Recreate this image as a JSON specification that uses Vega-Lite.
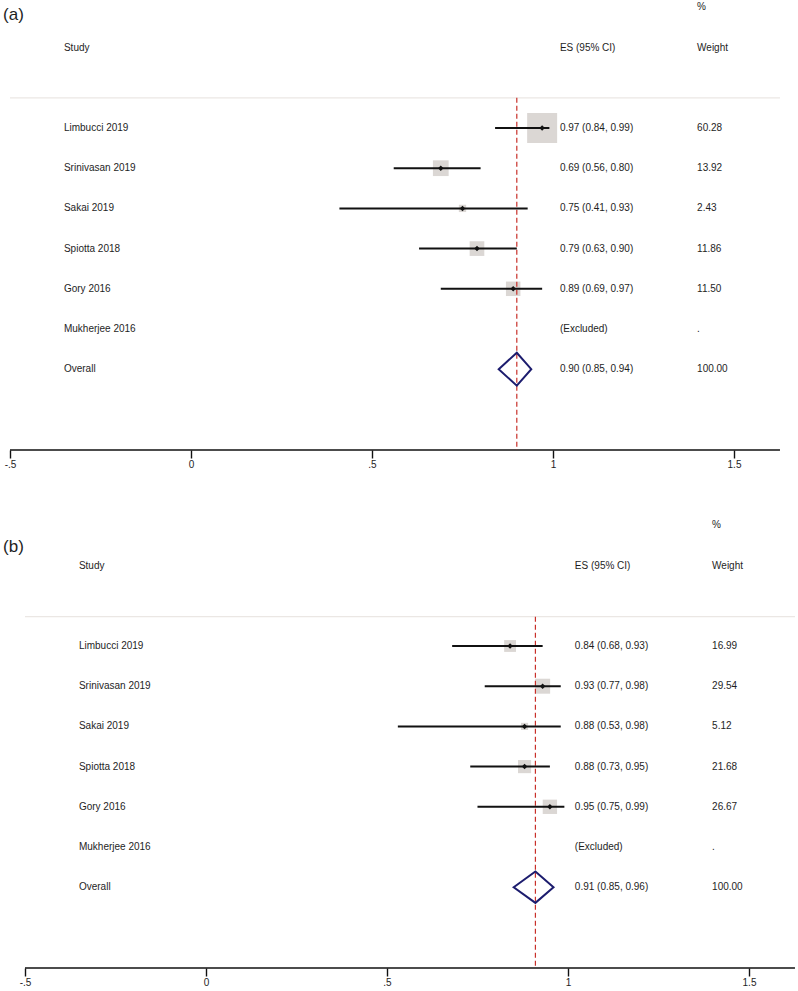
{
  "$schema": "https://vega.github.io/schema/vega-lite/v6.json",
  "background": "white",
  "padding": {"left": 3, "top": 0, "right": 0, "bottom": 0},
  "autosize": {"type": "pad"},
  "bounds": "flush",
  "spacing": 68,
  "config": {
    "view": {"stroke": null},
    "text": {"font": "Liberation Sans", "fontSize": 10, "color": "#1e1e1e", "align": "left", "baseline": "middle"}
  },
  "resolve": {"scale": {"x": "independent", "y": "independent", "size": "independent"}},
  "datasets": {
    "a": [
      {"row": -2, "kind": "header", "study": "", "esci": "", "wlabel": "%"},
      {"row": -1, "kind": "header", "study": "Study", "esci": "ES (95% CI)", "wlabel": "Weight"},
      {"row": 1, "kind": "study", "study": "Limbucci 2019", "es": 0.97, "lo": 0.84, "hi": 0.99, "weight": 60.28, "esci": "0.97 (0.84, 0.99)", "wlabel": "60.28"},
      {"row": 2, "kind": "study", "study": "Srinivasan 2019", "es": 0.69, "lo": 0.56, "hi": 0.80, "weight": 13.92, "esci": "0.69 (0.56, 0.80)", "wlabel": "13.92"},
      {"row": 3, "kind": "study", "study": "Sakai 2019", "es": 0.75, "lo": 0.41, "hi": 0.93, "weight": 2.43, "esci": "0.75 (0.41, 0.93)", "wlabel": "2.43"},
      {"row": 4, "kind": "study", "study": "Spiotta 2018", "es": 0.79, "lo": 0.63, "hi": 0.90, "weight": 11.86, "esci": "0.79 (0.63, 0.90)", "wlabel": "11.86"},
      {"row": 5, "kind": "study", "study": "Gory 2016", "es": 0.89, "lo": 0.69, "hi": 0.97, "weight": 11.50, "esci": "0.89 (0.69, 0.97)", "wlabel": "11.50"},
      {"row": 6, "kind": "excluded", "study": "Mukherjee 2016", "esci": "(Excluded)", "wlabel": "."},
      {"row": 7, "kind": "overall", "study": "Overall", "es": 0.90, "lo": 0.85, "hi": 0.94, "weight": 100, "esci": "0.90 (0.85, 0.94)", "wlabel": "100.00"}
    ],
    "b": [
      {"row": -2, "kind": "header", "study": "", "esci": "", "wlabel": "%"},
      {"row": -1, "kind": "header", "study": "Study", "esci": "ES (95% CI)", "wlabel": "Weight"},
      {"row": 1, "kind": "study", "study": "Limbucci 2019", "es": 0.84, "lo": 0.68, "hi": 0.93, "weight": 16.99, "esci": "0.84 (0.68, 0.93)", "wlabel": "16.99"},
      {"row": 2, "kind": "study", "study": "Srinivasan 2019", "es": 0.93, "lo": 0.77, "hi": 0.98, "weight": 29.54, "esci": "0.93 (0.77, 0.98)", "wlabel": "29.54"},
      {"row": 3, "kind": "study", "study": "Sakai 2019", "es": 0.88, "lo": 0.53, "hi": 0.98, "weight": 5.12, "esci": "0.88 (0.53, 0.98)", "wlabel": "5.12"},
      {"row": 4, "kind": "study", "study": "Spiotta 2018", "es": 0.88, "lo": 0.73, "hi": 0.95, "weight": 21.68, "esci": "0.88 (0.73, 0.95)", "wlabel": "21.68"},
      {"row": 5, "kind": "study", "study": "Gory 2016", "es": 0.95, "lo": 0.75, "hi": 0.99, "weight": 26.67, "esci": "0.95 (0.75, 0.99)", "wlabel": "26.67"},
      {"row": 6, "kind": "excluded", "study": "Mukherjee 2016", "esci": "(Excluded)", "wlabel": "."},
      {"row": 7, "kind": "overall", "study": "Overall", "es": 0.91, "lo": 0.85, "hi": 0.96, "weight": 100, "esci": "0.91 (0.85, 0.96)", "wlabel": "100.00"}
    ]
  },
  "vconcat": [
    {
      "width": 785,
      "height": 450,
      "data": {"name": "a"},
      "layer": [
        {
          "data": {"values": [{"line": "axis"}]},
          "mark": {"type": "rule", "color": "#111111", "strokeWidth": 1.6},
          "encoding": {
            "x": {"datum": -0.5, "type": "quantitative", "scale": {"domain": [-0.5, 1.6685], "nice": false, "zero": false},
              "axis": {"values": [-0.5, 0, 0.5, 1, 1.5], "labelExpr": "datum.value == -0.5 ? '-.5' : datum.value == 0.5 ? '.5' : datum.value == 1.5 ? '1.5' : datum.value == 1 ? '1' : '0'", "domain": false, "grid": false, "ticks": true, "tickSize": 8, "tickWidth": 1.4, "tickColor": "#111111", "labelFont": "Liberation Sans", "labelFontSize": 10, "labelColor": "#1e1e1e", "labelPadding": 1, "labelFlush": false, "title": null}},
            "x2": {"datum": 1.627},
            "y": {"datum": 9.01, "type": "quantitative", "scale": {"domain": [-2.184, 9.01], "reverse": true, "nice": false, "zero": false}, "axis": null}
          }
        },
        {
          "data": {"values": [{"line": "separator"}]},
          "mark": {"type": "rule", "color": "#ebe7e4", "strokeWidth": 1.2},
          "encoding": {
            "x": {"datum": -0.5, "type": "quantitative"},
            "x2": {"datum": 1.627},
            "y": {"datum": 0.25, "type": "quantitative", "axis": null}
          }
        },
        {
          "transform": [{"filter": "datum.kind == 'study'"}],
          "mark": {"type": "point", "shape": "square", "filled": true, "color": "#dbd7d4", "opacity": 1},
          "encoding": {
            "x": {"field": "es", "type": "quantitative", "title": null},
            "y": {"field": "row", "type": "quantitative", "axis": null},
            "size": {"field": "weight", "type": "quantitative", "scale": {"type": "pow", "exponent": 0.88, "domain": [0, 100], "range": [0, 1405]}, "legend": null}
          }
        },
        {
          "transform": [{"filter": "datum.kind == 'overall'"}],
          "mark": {"type": "rule", "color": "#c8302a", "strokeWidth": 1.2, "strokeDash": [5, 3]},
          "encoding": {
            "x": {"field": "es", "type": "quantitative", "title": null},
            "y": {"datum": 0.25, "type": "quantitative", "axis": null},
            "y2": {"datum": 9.01}
          }
        },
        {
          "transform": [{"filter": "datum.kind == 'study'"}],
          "mark": {"type": "rule", "color": "#111111", "strokeWidth": 2},
          "encoding": {
            "x": {"field": "lo", "type": "quantitative", "title": null},
            "x2": {"field": "hi"},
            "y": {"field": "row", "type": "quantitative", "axis": null}
          }
        },
        {
          "transform": [{"filter": "datum.kind == 'study'"}],
          "mark": {"type": "point", "shape": "diamond", "filled": true, "color": "#111111", "size": 30, "opacity": 1},
          "encoding": {
            "x": {"field": "es", "type": "quantitative", "title": null},
            "y": {"field": "row", "type": "quantitative", "axis": null}
          }
        },
        {
          "transform": [
            {"filter": "datum.kind == 'overall'"},
            {"fold": ["lo", "es", "hi"], "as": ["vertex", "xv"]},
            {"calculate": "datum.vertex == 'es' ? datum.row - 0.41 : datum.row", "as": "ytop"},
            {"calculate": "datum.vertex == 'es' ? datum.row + 0.41 : datum.row", "as": "ybot"}
          ],
          "mark": {"type": "area", "orient": "vertical", "fill": "white", "fillOpacity": 0, "stroke": "#1c1c6e", "strokeWidth": 2},
          "encoding": {
            "x": {"field": "xv", "type": "quantitative", "title": null},
            "y": {"field": "ytop", "type": "quantitative", "axis": null},
            "y2": {"field": "ybot"}
          }
        },
        {
          "mark": {"type": "text"},
          "encoding": {
            "x": {"datum": -0.351, "type": "quantitative"},
            "y": {"field": "row", "type": "quantitative", "axis": null},
            "text": {"field": "study"}
          }
        },
        {
          "mark": {"type": "text"},
          "encoding": {
            "x": {"datum": 1.019, "type": "quantitative"},
            "y": {"field": "row", "type": "quantitative", "axis": null},
            "text": {"field": "esci"}
          }
        },
        {
          "mark": {"type": "text"},
          "encoding": {
            "x": {"datum": 1.398, "type": "quantitative"},
            "y": {"field": "row", "type": "quantitative", "axis": null},
            "text": {"field": "wlabel"}
          }
        },
        {
          "data": {"values": [{"label": "(a)"}]},
          "mark": {"type": "text", "fontSize": 17},
          "encoding": {
            "x": {"datum": -0.5193, "type": "quantitative"},
            "y": {"datum": -1.81, "type": "quantitative", "axis": null},
            "text": {"field": "label"}
          }
        }
      ]
    },
    {
      "width": 785,
      "height": 450,
      "data": {"name": "b"},
      "layer": [
        {
          "data": {"values": [{"line": "axis"}]},
          "mark": {"type": "rule", "color": "#111111", "strokeWidth": 1.6},
          "encoding": {
            "x": {"datum": -0.5, "type": "quantitative", "scale": {"domain": [-0.5414, 1.6271], "nice": false, "zero": false},
              "axis": {"values": [-0.5, 0, 0.5, 1, 1.5], "labelExpr": "datum.value == -0.5 ? '-.5' : datum.value == 0.5 ? '.5' : datum.value == 1.5 ? '1.5' : datum.value == 1 ? '1' : '0'", "domain": false, "grid": false, "ticks": true, "tickSize": 8, "tickWidth": 1.4, "tickColor": "#111111", "labelFont": "Liberation Sans", "labelFontSize": 10, "labelColor": "#1e1e1e", "labelPadding": 1, "labelFlush": false, "title": null}},
            "x2": {"datum": 1.627},
            "y": {"datum": 9.01, "type": "quantitative", "scale": {"domain": [-2.184, 9.01], "reverse": true, "nice": false, "zero": false}, "axis": null}
          }
        },
        {
          "data": {"values": [{"line": "separator"}]},
          "mark": {"type": "rule", "color": "#ebe7e4", "strokeWidth": 1.2},
          "encoding": {
            "x": {"datum": -0.5, "type": "quantitative"},
            "x2": {"datum": 1.627},
            "y": {"datum": 0.27, "type": "quantitative", "axis": null}
          }
        },
        {
          "transform": [{"filter": "datum.kind == 'study'"}],
          "mark": {"type": "point", "shape": "square", "filled": true, "color": "#dbd7d4", "opacity": 1},
          "encoding": {
            "x": {"field": "es", "type": "quantitative", "title": null},
            "y": {"field": "row", "type": "quantitative", "axis": null},
            "size": {"field": "weight", "type": "quantitative", "scale": {"type": "pow", "exponent": 0.85, "domain": [0, 100], "range": [0, 632]}, "legend": null}
          }
        },
        {
          "transform": [{"filter": "datum.kind == 'overall'"}],
          "mark": {"type": "rule", "color": "#c8302a", "strokeWidth": 1.2, "strokeDash": [5, 3]},
          "encoding": {
            "x": {"field": "es", "type": "quantitative", "title": null},
            "y": {"datum": 0.27, "type": "quantitative", "axis": null},
            "y2": {"datum": 9.01}
          }
        },
        {
          "transform": [{"filter": "datum.kind == 'study'"}],
          "mark": {"type": "rule", "color": "#111111", "strokeWidth": 2},
          "encoding": {
            "x": {"field": "lo", "type": "quantitative", "title": null},
            "x2": {"field": "hi"},
            "y": {"field": "row", "type": "quantitative", "axis": null}
          }
        },
        {
          "transform": [{"filter": "datum.kind == 'study'"}],
          "mark": {"type": "point", "shape": "diamond", "filled": true, "color": "#111111", "size": 30, "opacity": 1},
          "encoding": {
            "x": {"field": "es", "type": "quantitative", "title": null},
            "y": {"field": "row", "type": "quantitative", "axis": null}
          }
        },
        {
          "transform": [
            {"filter": "datum.kind == 'overall'"},
            {"fold": ["lo", "es", "hi"], "as": ["vertex", "xv"]},
            {"calculate": "datum.vertex == 'es' ? datum.row - 0.39 : datum.row", "as": "ytop"},
            {"calculate": "datum.vertex == 'es' ? datum.row + 0.39 : datum.row", "as": "ybot"}
          ],
          "mark": {"type": "area", "orient": "vertical", "fill": "white", "fillOpacity": 0, "stroke": "#1c1c6e", "strokeWidth": 2},
          "encoding": {
            "x": {"field": "xv", "type": "quantitative", "title": null},
            "y": {"field": "ytop", "type": "quantitative", "axis": null},
            "y2": {"field": "ybot"}
          }
        },
        {
          "mark": {"type": "text"},
          "encoding": {
            "x": {"datum": -0.351, "type": "quantitative"},
            "y": {"field": "row", "type": "quantitative", "axis": null},
            "text": {"field": "study"}
          }
        },
        {
          "mark": {"type": "text"},
          "encoding": {
            "x": {"datum": 1.019, "type": "quantitative"},
            "y": {"field": "row", "type": "quantitative", "axis": null},
            "text": {"field": "esci"}
          }
        },
        {
          "mark": {"type": "text"},
          "encoding": {
            "x": {"datum": 1.398, "type": "quantitative"},
            "y": {"field": "row", "type": "quantitative", "axis": null},
            "text": {"field": "wlabel"}
          }
        },
        {
          "data": {"values": [{"label": "(b)"}]},
          "mark": {"type": "text", "fontSize": 17},
          "encoding": {
            "x": {"datum": -0.5607, "type": "quantitative"},
            "y": {"datum": -1.46, "type": "quantitative", "axis": null},
            "text": {"field": "label"}
          }
        }
      ]
    }
  ]
}
